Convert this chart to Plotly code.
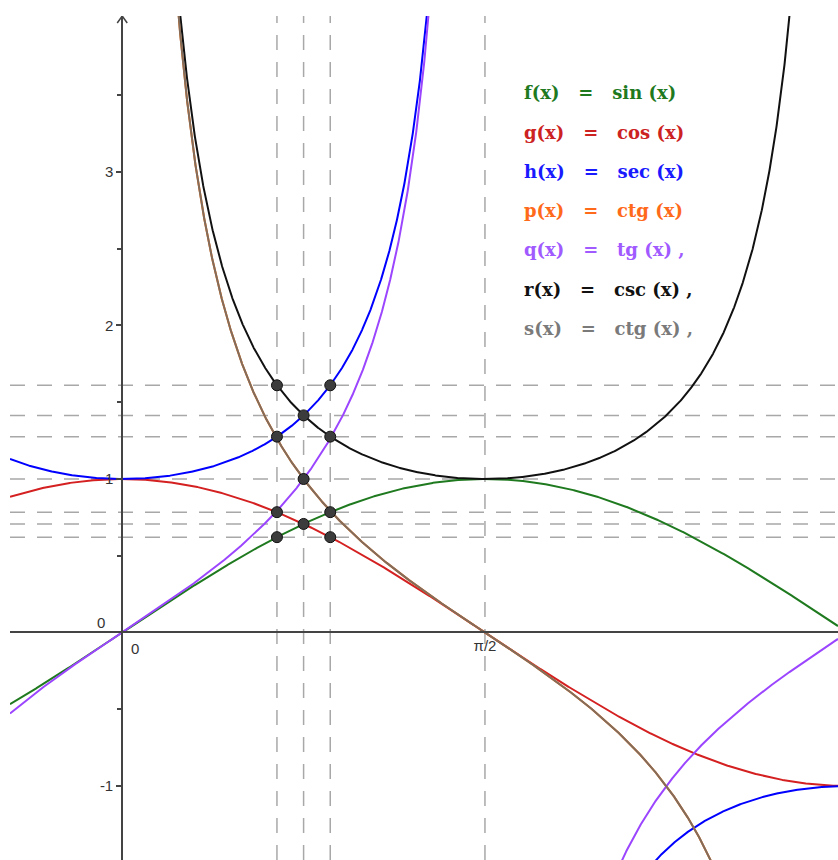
import numpy as np
import plotly.graph_objects as go

# visible window of the GeoGebra view
X_RANGE = [-0.486, 3.0996]
Y_RANGE = [-1.482, 4.016]

# marked abscissas (dashed verticals) and the pi/2 guide
a = 0.67
MARK_X = [a, np.pi / 4, np.pi / 2 - a]
GUIDE_X = MARK_X + [np.pi / 2]

# y tick values / labels
Y_TICKS = [-1, 1, 2, 3]
Y_TICK_TEXT = ["-1", "1", "2", "3"]
X_TICKS = [np.pi / 2]
X_TICK_TEXT = ["π/2"]

names = ["f", "g", "h", "p", "q", "r", "s"]
funcs = ["sin", "cos", "sec", "ctg", "tg", "csc", "ctg"]
line_colors = ["#1f7a1f", "#d42020", "#0000ff", "#ff6a00", "#9b45ff", "#111111", "#826c5c"]
text_colors = ["#1f7a1f", "#cc2222", "#1a1aff", "#ff6a1a", "#a05aff", "#111111", "#7a7a7a"]
suffix = ["", "", "", "", " ,", " ,", " ,"]

np_funcs = {
    "sin": np.sin,
    "cos": np.cos,
    "sec": lambda t: 1 / np.cos(t),
    "csc": lambda t: 1 / np.sin(t),
    "tg": np.tan,
    "ctg": lambda t: 1 / np.tan(t),
}

xs = np.linspace(X_RANGE[0], X_RANGE[1], 3000)

fig = go.Figure()

# dashed guides
guide_style = dict(color="#a8a8a8", width=1.5, dash="15px,12px")
for gx in GUIDE_X:
    fig.add_shape(type="line", x0=gx, x1=gx, y0=Y_RANGE[0], y1=Y_RANGE[1],
                  line=guide_style, layer="below")

# points where the guides meet the curves
pt_x, pt_y = [], []
for mx in MARK_X:
    vals = set()
    for fn in ["sin", "cos", "sec", "csc", "tg"]:
        v = float(np_funcs[fn](mx))
        key = round(v, 4)
        if key in vals:
            continue
        if fn == "tg" and abs(mx - np.pi / 4) > 1e-9:
            continue
        vals.add(key)
        pt_x.append(mx)
        pt_y.append(v)
levels = sorted(set(round(v, 6) for v in pt_y))
for lv in levels:
    fig.add_shape(type="line", x0=X_RANGE[0], x1=X_RANGE[1], y0=lv, y1=lv,
                  line=guide_style, layer="below")

for n, fn, c in zip(names, funcs, line_colors):
    ys = np_funcs[fn](xs)
    ys = np.where(np.abs(ys) > 12, np.nan, ys)
    fig.add_trace(go.Scatter(x=xs, y=ys, mode="lines", line=dict(color=c, width=2),
                             hoverinfo="skip", showlegend=False))

fig.add_trace(go.Scatter(x=pt_x, y=pt_y, mode="markers",
                         marker=dict(size=11, color="#3c3c3c", line=dict(color="#111", width=1)),
                         hoverinfo="skip", showlegend=False))

# legend written as text, like GeoGebra's algebra labels
sp = "\u00a0\u00a0"
for i, (n, fn, tc, sf) in enumerate(zip(names, funcs, text_colors, suffix)):
    fig.add_annotation(xref="paper", yref="paper", x=(522 - 10) / 828, y=1 - (93 + i * 39.2 - 16) / 844,
                       xanchor="left", yanchor="middle", showarrow=False,
                       text=f"<b>{n}(x) {sp}={sp} {fn} (x){sf}</b>",
                       font=dict(family="DejaVu Serif", size=18, color=tc))

# origin labels
fig.add_annotation(x=0, y=0, text="0", showarrow=False, xshift=-21, yshift=10,
                   font=dict(family="Liberation Sans", size=15, color="#333"))
fig.add_annotation(x=0, y=0, text="0", showarrow=False, xshift=13, yshift=-16,
                   font=dict(family="Liberation Sans", size=15, color="#333"))

# arrow head on the y axis
fig.add_shape(type="path", xsizemode="pixel", ysizemode="pixel", xanchor=0, yanchor=Y_RANGE[1],
              path="M -5,-7 L 0,0 L 5,-7", line=dict(color="#444", width=1.5))

x_pos = (0 - Y_RANGE[0]) / (Y_RANGE[1] - Y_RANGE[0])
y_pos = (0 - X_RANGE[0]) / (X_RANGE[1] - X_RANGE[0])

fig.update_layout(
    width=838, height=860,
    margin=dict(l=10, r=0, t=16, b=0),
    plot_bgcolor="white", paper_bgcolor="white",
    xaxis=dict(range=X_RANGE, showgrid=False, zeroline=False, showline=True, automargin=False,
               linecolor="#444", linewidth=2, anchor="free", position=x_pos,
               tickvals=X_TICKS, ticktext=X_TICK_TEXT, ticks="",
               tickfont=dict(family="Liberation Sans", size=15, color="#333")),
    yaxis=dict(range=Y_RANGE, showgrid=False, zeroline=False, showline=True, automargin=False,
               linecolor="#444", linewidth=2, anchor="free", position=y_pos,
               tickvals=Y_TICKS, ticktext=Y_TICK_TEXT, ticks="outside", ticklen=5,
               tickcolor="#444", tickwidth=1.5,
               minor=dict(tickvals=[-0.5, 0.5, 1.5, 2.5, 3.5], ticks="outside", ticklen=4,
                          tickcolor="#444"),
               tickfont=dict(family="Liberation Sans", size=15, color="#333")),
)

# drop the default 8px page margin so the figure sits at the window's corner
fig.write_html("out.html", config={"displayModeBar": False},
               post_script="document.body.style.margin='0';")
